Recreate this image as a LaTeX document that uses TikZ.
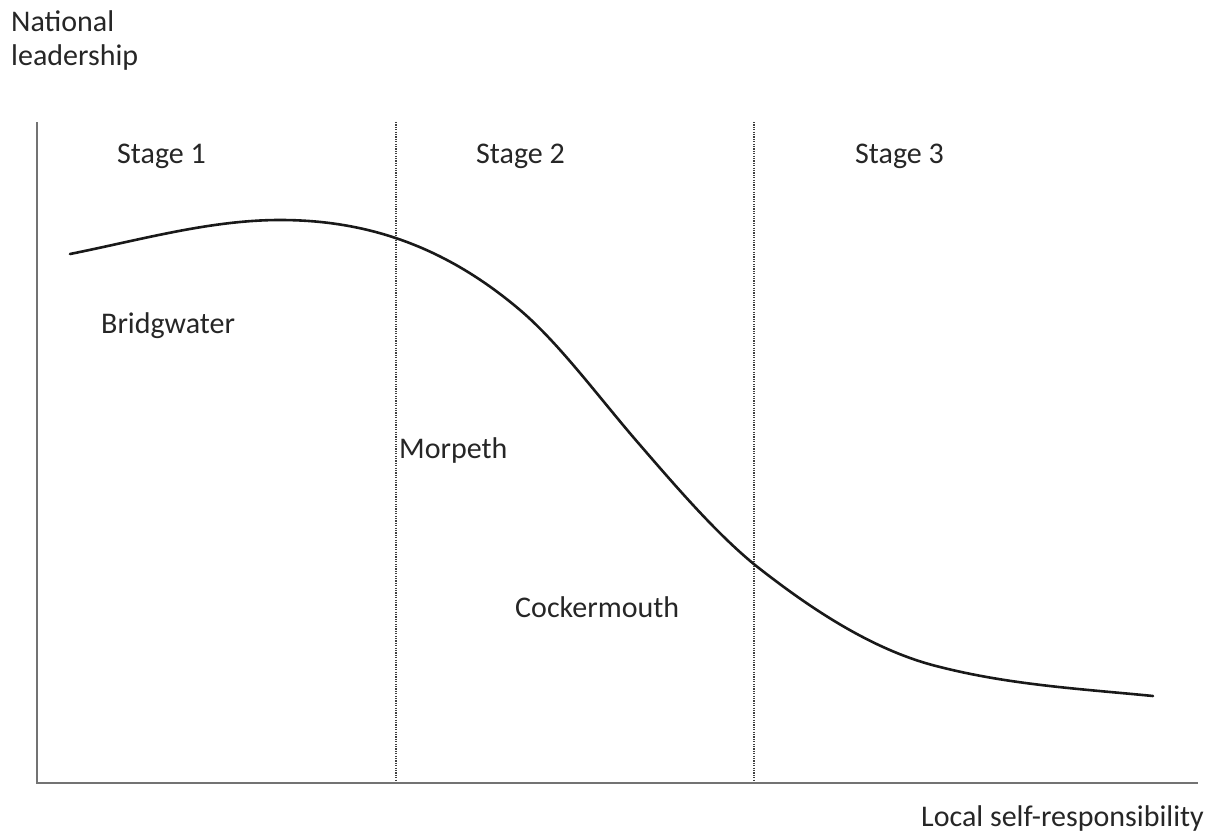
\documentclass[tikz,border=0pt]{standalone}
\usepackage{fontspec}
\setmainfont{Carlito}
\begin{document}
\begin{tikzpicture}[x=1pt,y=-1pt,
  lbl/.style={anchor=base west,inner sep=0pt,text=black!85,font=\fontsize{30}{35}\selectfont},
  axisline/.style={draw=black!55,line width=2.6pt},
  divider/.style={draw=black!75,line width=1.8pt,dash pattern=on 1.2pt off 1.2pt},
  trend/.style={draw=black!90,line width=2.6pt,line cap=round}]
\useasboundingbox (0,0) rectangle (1222,832);
\coordinate (O) at (37,783);
\coordinate (ytop) at (37,122);
\coordinate (xend) at (1198,783);
\coordinate (d1t) at (396,122);
\coordinate (d1b) at (396,782);
\coordinate (d2t) at (754,122);
\coordinate (d2b) at (754,782);
\draw[divider] (d1t) -- (d1b);
\draw[divider] (d2t) -- (d2b);
\draw[axisline] (ytop) -- (O) -- (xend);
\draw[trend] (70,254) .. controls (140,240) and (210,220) .. (280,220)
  .. controls (360,220) and (440,242) .. (520,310)
  .. controls (560,344) and (600,399) .. (640,445)
  .. controls (678,489) and (717,534) .. (755,565)
  .. controls (817,614) and (878,652) .. (940,667)
  .. controls (1011,685) and (1082,689) .. (1153,696);
\node[lbl] (nat) at (11,32) {National};
\node[lbl] (lead) at (11,66) {leadership};
\node[lbl] (s1) at (117,163) {Stage 1};
\node[lbl] (s2) at (476,163) {Stage 2};
\node[lbl] (s3) at (855,163) {Stage 3};
\node[lbl] (bw) at (101,333) {Bridgwater};
\node[lbl] (mp) at (399,458) {Morpeth};
\node[lbl] (cm) at (515,617) {Cockermouth};
\node[lbl] (loc) at (921,826) {Local self-responsibility};
\end{tikzpicture}
\end{document}
